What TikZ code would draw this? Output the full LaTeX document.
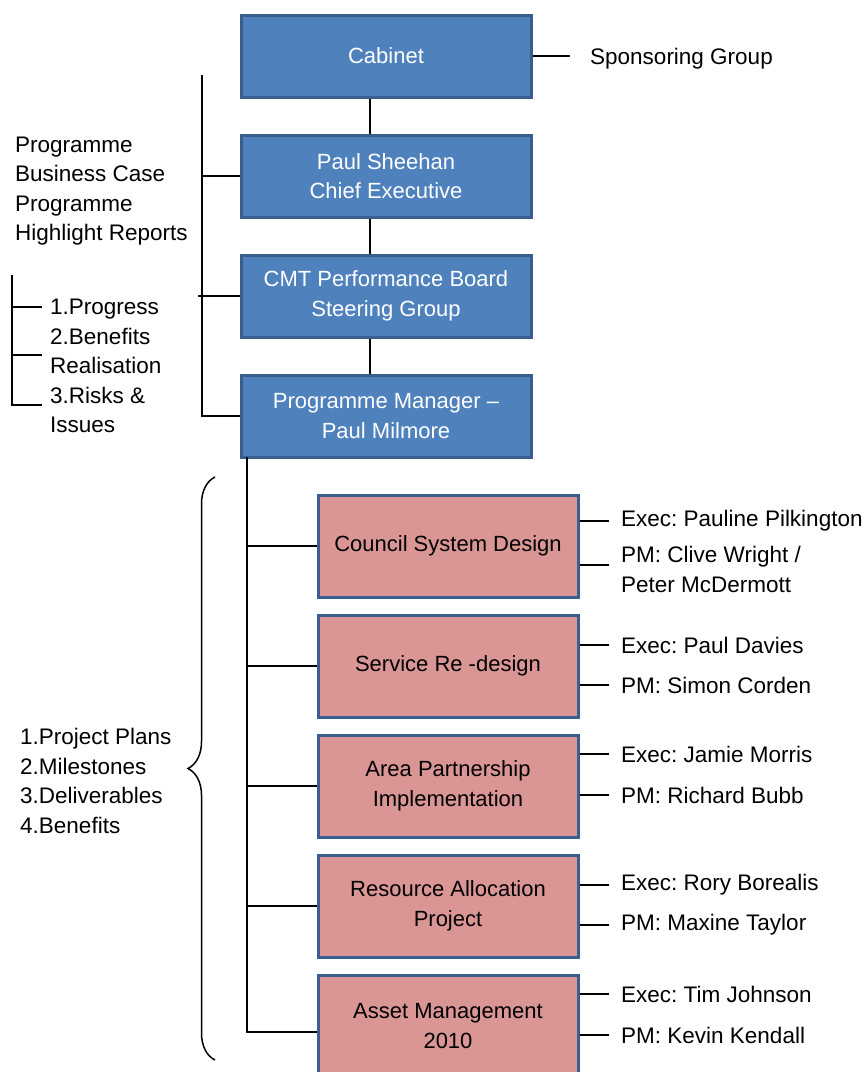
\documentclass[tikz,border=0pt]{standalone}
\usepackage{fontspec}
\setmainfont{Liberation Sans}
\usepackage{xcolor}
\usepackage{tikz}
\usetikzlibrary{positioning, calc, decorations.pathreplacing}
\frenchspacing

\definecolor{boardblue}{HTML}{4F81BD}
\definecolor{edgeblue}{HTML}{3A5F8E}
\definecolor{projpink}{HTML}{D99694}

\begin{document}
\begin{tikzpicture}[x=1pt, y=-1pt,
  every node/.style={font=\fontsize{22.5}{29.5}\selectfont, inner sep=0pt},
  board/.style={draw=edgeblue, line width=3pt, fill=boardblue, text=white,
    minimum width=290pt, minimum height=82pt, align=center,
    font=\fontsize{22}{29.5}\selectfont},
  project/.style={board, fill=projpink, text=black, minimum width=260pt, minimum height=102pt},
  note/.style={align=left, anchor=west},
  link/.style={line width=1.8pt}]
  \useasboundingbox (0,0) rectangle (864,1072);
  \clip (0,0) rectangle (864,1072);

  % governance chain
  \node[board] (cab) at (386,56) {Cabinet};
  \node[board] (ceo) at (386,176) {Paul Sheehan\\Chief Executive};
  \node[board] (cmt) at (386,296) {CMT Performance Board\\Steering Group};
  \node[board] (pgm) at (386,416) {Programme Manager –\\Paul Milmore};
  \draw[link] ([xshift=-16pt]cab.south) -- ([xshift=-16pt]ceo.north);
  \draw[link] ([xshift=-16pt]ceo.south) -- ([xshift=-16pt]cmt.north);
  \draw[link] ([xshift=-16pt]cmt.south) -- ([xshift=-16pt]pgm.north);

  \node[note] (spon) at (590,59) {Sponsoring Group};
  \draw[link] (cab.east) -- ([xshift=-20pt]cab.east -| spon.west);

  % reporting bracket
  \coordinate (rtop) at (202,75);
  \draw[link] (rtop) |- (pgm.west);
  \draw[link] (rtop |- ceo.west) -- (ceo.west);
  \draw[link] ([xshift=-4pt]rtop |- cmt.west) -- (cmt.west);
  \node[note] (pbc) at (15,191) {Programme\\Business Case\\Programme\\Highlight Reports};

  \node[note] (hrl) at (50,366) {1.Progress\\2.Benefits\\Realisation\\3.Risks \&\\Issues};
  \coordinate (stop) at (12,275);
  \coordinate (t1) at (42,307);
  \coordinate (t2) at (42,355);
  \coordinate (t3) at (42,405);
  \draw[link] (stop) |- (t3);
  \draw[link] (stop |- t1) -- (t1);
  \draw[link] (stop |- t2) -- (t2);

  % projects
  \node[project] (csd) at (448,546) {Council System Design};
  \node[project] (srd) at (448,666) {Service Re -design};
  \node[project] (apl) at (448,786) {Area Partnership\\Implementation};
  \node[project] (rap) at (448,906) {Resource Allocation\\Project};
  \node[project] (amg) at (448,1026) {Asset Management\\2010};

  \coordinate (ptop) at (247,457);
  \draw[link] (ptop |- csd.west) -- (csd.west);
  \draw[link] (ptop |- srd.west) -- (srd.west);
  \draw[link] (ptop |- apl.west) -- (apl.west);
  \draw[link] (ptop |- rap.west) -- (rap.west);
  \draw[link] (ptop) |- ([yshift=-6pt]amg.west);

  \coordinate (btop) at (215,477);
  \coordinate (bbot) at (215,1060);
  \draw[decorate, decoration={brace, amplitude=27pt}, line width=1.5pt] (bbot) -- (btop);
  \node[note] (plans) at (20,781) {1.Project Plans\\2.Milestones\\3.Deliverables\\4.Benefits};

  % owners
  \node[note] (csdx) at (621,521) {Exec: Pauline Pilkington};
  \node[note, anchor=north west] (csdp) at (621,546) {PM: Clive Wright /\\Peter McDermott};
  \node[note] (srdx) at (621,645) {Exec: Paul Davies};
  \node[note] (srdp) at (621,685) {PM: Simon Corden};
  \node[note] (aplx) at (621,754) {Exec: Jamie Morris};
  \node[note] (aplp) at (621,795) {PM: Richard Bubb};
  \node[note] (rapx) at (621,885) {Exec: Rory Borealis};
  \node[note] (rapp) at (621,925) {PM: Maxine Taylor};
  \node[note] (amgx) at (621,994) {Exec: Tim Johnson};
  \node[note] (amgp) at (621,1035) {PM: Kevin Kendall};

  \draw[link] (csd.east |- csdx.west) -- ([xshift=-12pt]csdx.west);
  \draw[link] ([yshift=-19pt]csd.east |- csdp.north west) -- ([xshift=-12pt, yshift=-19pt]csdp.north west);
  \draw[link] (srd.east |- srdx.west) -- ([xshift=-12pt]srdx.west);
  \draw[link] (srd.east |- srdp.west) -- ([xshift=-12pt]srdp.west);
  \draw[link] (apl.east |- aplx.west) -- ([xshift=-12pt]aplx.west);
  \draw[link] (apl.east |- aplp.west) -- ([xshift=-12pt]aplp.west);
  \draw[link] (rap.east |- rapx.west) -- ([xshift=-12pt]rapx.west);
  \draw[link] (rap.east |- rapp.west) -- ([xshift=-12pt]rapp.west);
  \draw[link] (amg.east |- amgx.west) -- ([xshift=-12pt]amgx.west);
  \draw[link] (amg.east |- amgp.west) -- ([xshift=-12pt]amgp.west);
\end{tikzpicture}
\end{document}
